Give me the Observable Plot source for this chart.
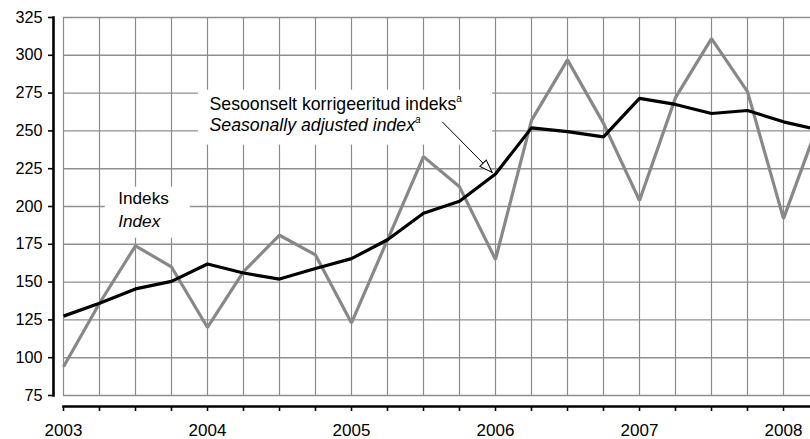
<!DOCTYPE html>
<html>
<head>
<meta charset="utf-8">
<script src="https://cdn.jsdelivr.net/npm/d3@7"></script>
<script src="https://cdn.jsdelivr.net/npm/@observablehq/plot@0.6"></script>
<style>
  html, body { margin: 0; padding: 0; background: #fff; }
  #chart { width: 810px; height: 439px; overflow: hidden; }
</style>
</head>
<body>
<div id="chart"></div>
<script>
// ---- data ----
const years = [2003, 2004, 2005, 2006, 2007, 2008];
const quarterLabels = ["I", "II", "III", "IV"];
// 2003 Q1 ... 2008 Q2
const indexValues = [94, 136, 174, 160, 120, 157, 181, 168, 123, 178, 233, 213, 165, 257, 297, 255, 204, 272, 311, 276, 192, 257];
const adjustedValues = [127.5, 136, 145.5, 150.5, 162, 156, 152, 159, 165.5, 178, 195.5, 203.5, 221.5, 252, 249.5, 246, 271.5, 267.5, 261.5, 263.5, 256, 250.5];
const yTicks = [75, 100, 125, 150, 175, 200, 225, 250, 275, 300, 325];
const labelIndex = ["Indeks", "Index"];
const labelAdjusted = ["Sesoonselt korrigeeritud indeks", "Seasonally adjusted index"];

// ---- derived tables ----
const periods = indexValues.map((_, i) => years[0] + i / 4);
const indexRows = periods.map((t, i) => ({t, v: indexValues[i]}));
const adjRows = periods.map((t, i) => ({t, v: adjustedValues[i]}));
const quarterTicks = years.flatMap(y => quarterLabels.map((_, q) => y + q / 4)).filter(t => t <= years[years.length - 1]);

// ---- annotation layout (data units) ----
const boxes = [
  {x1: 2003.29, x2: 2003.88, y1: 179, y2: 212.8},
  {x1: 2003.9375, x2: 2005.979, y1: 240.6, y2: 276.9}
];
const textsNormal = [
  {x: 2003.38, y: 201.5, s: labelIndex[0], f: 17.2},
  {x: 2004.014, y: 263.7, s: labelAdjusted[0], f: 17.7}
];
const textsItalic = [
  {x: 2003.38, y: 186.5, s: labelIndex[1], f: 17.2},
  {x: 2004.014, y: 249.8, s: labelAdjusted[1], f: 17.7}
];
const arrowLink = [{x1: 2005.63, y1: 256, x2: 2005.977, y2: 222.5}];

const font = "'Liberation Sans', Arial, Helvetica, sans-serif";

const plot = Plot.plot({
  width: 810,
  height: 439,
  marginLeft: 53,
  marginRight: 0,
  marginTop: 17,
  marginBottom: 33,
  style: {fontFamily: font, fontSize: "16px", color: "#000", background: "#fff"},
  x: {type: "linear", domain: [2003, 2008.1875], insetLeft: 10, label: null},
  y: {domain: [75, 325], insetBottom: 11, label: null},
  marks: [
    Plot.gridY(yTicks, {stroke: "#8f8f8f", strokeOpacity: 1, strokeWidth: 1.4, insetLeft: 10}),
    Plot.gridX(quarterTicks, {stroke: "#8a8a8a", strokeOpacity: 1, strokeWidth: 1.2, insetBottom: 11}),
    Plot.rect(boxes, {x1: "x1", x2: "x2", y1: "y1", y2: "y2", fill: "white"}),
    Plot.line(indexRows, {x: "t", y: "v", stroke: "#888888", strokeWidth: 3.2, strokeLinejoin: "miter", strokeLinecap: "butt", clip: true}),
    Plot.line(adjRows, {x: "t", y: "v", stroke: "#000", strokeWidth: 3.2, strokeLinejoin: "miter", strokeLinecap: "butt", clip: true}),
    Plot.text(textsNormal, {x: "x", y: "y", text: "s", textAnchor: "start", lineAnchor: "bottom", fontSize: "f", fill: "#000"}),
    Plot.text(textsItalic, {x: "x", y: "y", text: "s", textAnchor: "start", lineAnchor: "bottom", fontSize: "f", fontStyle: "italic", fill: "#000"}),
    Plot.link(arrowLink, {x1: "x1", y1: "y1", x2: "x2", y2: "y2", stroke: "#000", strokeWidth: 1}),
    Plot.frame({anchor: "left", insetBottom: 11, stroke: "#000", strokeWidth: 2.6}),
    Plot.frame({anchor: "bottom", insetLeft: 10, stroke: "#000", strokeWidth: 2.6}),
    Plot.axisY({ticks: yTicks, tickSize: 5, tickPadding: 6, fontSize: 16.2, strokeWidth: 1.6, tickFormat: d => String(d)}),
    Plot.axisX({ticks: quarterTicks, tickSize: 5, strokeWidth: 1.6, tickFormat: () => ""}),
    Plot.axisX({ticks: years, tickSize: 0, tickPadding: 17, fontSize: 17, tickFormat: d => String(d)})
  ]
});

document.getElementById("chart").appendChild(plot);

// superscript "a" on the seasonally adjusted label
plot.querySelectorAll("text").forEach(t => {
  if (t.textContent === labelAdjusted[0] || t.textContent === labelAdjusted[1]) {
    const ts = document.createElementNS("http://www.w3.org/2000/svg", "tspan");
    ts.setAttribute("dy", "-8");
    ts.setAttribute("font-size", "10");
    ts.textContent = "a";
    t.appendChild(ts);
  }
});

// hollow triangle arrowhead
const ns = "http://www.w3.org/2000/svg";
const defs = document.createElementNS(ns, "defs");
const marker = document.createElementNS(ns, "marker");
marker.setAttribute("id", "hollow-arrow");
marker.setAttribute("viewBox", "-15 -6 16 12");
marker.setAttribute("refX", "0");
marker.setAttribute("refY", "0");
marker.setAttribute("markerWidth", "16");
marker.setAttribute("markerHeight", "12");
marker.setAttribute("markerUnits", "userSpaceOnUse");
marker.setAttribute("orient", "auto");
const mp = document.createElementNS(ns, "path");
mp.setAttribute("d", "M0,0L-13,-4.5L-13,4.5Z");
mp.setAttribute("fill", "white");
mp.setAttribute("stroke", "black");
mp.setAttribute("stroke-width", "1");
marker.appendChild(mp);
defs.appendChild(marker);
plot.insertBefore(defs, plot.firstChild);
plot.querySelectorAll("g[aria-label='link'] path").forEach(p => p.setAttribute("marker-end", "url(#hollow-arrow)"));
</script>
</body>
</html>
